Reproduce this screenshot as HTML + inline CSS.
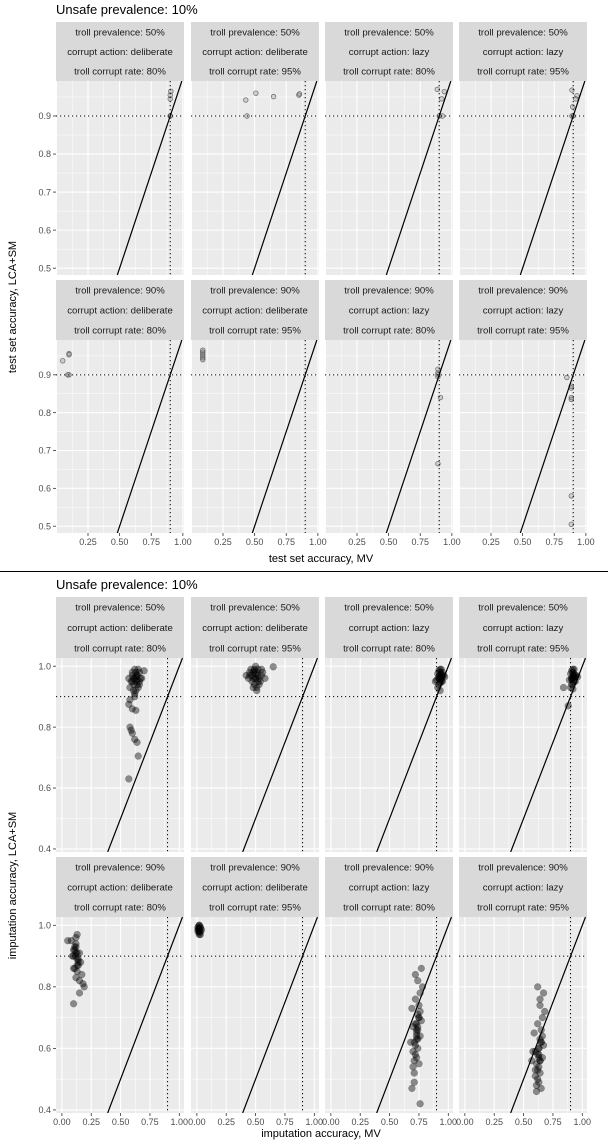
<!DOCTYPE html>
<html><head><meta charset="utf-8">
<style>
html,body{margin:0;padding:0;background:#fff;width:608px;height:1142px;overflow:hidden;}
svg{display:block;font-family:"Liberation Sans",sans-serif;}
</style></head>
<body>
<svg id="chart" width="608" height="1142" viewBox="0 0 608 1142" xmlns="http://www.w3.org/2000/svg"></svg>
<script>
// ---- facet labels ----
const trollPrev = ["50%","50%","50%","50%","90%","90%","90%","90%"];
const corruptAction = ["deliberate","deliberate","lazy","lazy","deliberate","deliberate","lazy","lazy"];
const corruptRate = ["80%","95%","80%","95%","80%","95%","80%","95%"];

// ---- top plot: test set accuracy (MV x, LCA+SM y) ----
const topTickX = [0.25,0.5,0.75,1.0];
const topTickXLabels = ["0.25","0.50","0.75","1.00"];
const topTickY = [0.5,0.6,0.7,0.8,0.9];
const topTickYLabels = ["0.5","0.6","0.7","0.8","0.9"];
const topX = [
 [0.90,0.90,0.90,0.90,0.905],
 [0.43,0.44,0.51,0.65,0.85,0.855],
 [0.885,0.94,0.92,0.925,0.90],
 [0.89,0.93,0.92,0.895,0.89,0.90],
 [0.05,0.10,0.10,0.09,0.10],
 [0.09,0.09,0.09,0.09,0.09,0.09],
 [0.89,0.89,0.89,0.89,0.91,0.89],
 [0.85,0.885,0.885,0.885,0.885,0.885,0.885]
];
const topY = [
 [0.90,0.90,0.945,0.955,0.965],
 [0.942,0.90,0.96,0.951,0.955,0.958],
 [0.97,0.964,0.945,0.90,0.90],
 [0.968,0.953,0.945,0.924,0.90,0.90],
 [0.937,0.956,0.953,0.90,0.90],
 [0.94,0.945,0.95,0.955,0.96,0.965],
 [0.915,0.905,0.90,0.895,0.84,0.665],
 [0.893,0.87,0.865,0.84,0.835,0.58,0.505]
];

// ---- bottom plot: imputation accuracy ----
const botTickX = [0,0.25,0.5,0.75,1.0];
const botTickXLabels = ["0.00","0.25","0.50","0.75","1.00"];
const botTickY = [0.4,0.6,0.8,1.0];
const botTickYLabels = ["0.4","0.6","0.8","1.0"];
const botX = [
 [0.60,0.62,0.64,0.66,0.63,0.61,0.65,0.67,0.59,0.62,0.64,0.60,0.66,0.63,0.68,0.61,0.63,0.65,0.58,0.62,0.64,0.66,0.60,0.63,0.70,0.57,0.61,0.64,0.62,0.58,0.57,0.60,0.63,0.58,0.59,0.60,0.62,0.64,0.65,0.57],
 [0.45,0.48,0.50,0.52,0.55,0.47,0.49,0.51,0.53,0.46,0.50,0.54,0.48,0.52,0.44,0.56,0.49,0.51,0.47,0.53,0.50,0.45,0.55,0.48,0.52,0.50,0.42,0.58,0.49,0.51,0.65],
 [0.92,0.93,0.94,0.91,0.95,0.93,0.92,0.94,0.96,0.90,0.93,0.95,0.92,0.94,0.91,0.93,0.97,0.92,0.94,0.93,0.89,0.95,0.93,0.92,0.94],
 [0.91,0.92,0.93,0.90,0.94,0.92,0.91,0.93,0.95,0.89,0.92,0.94,0.91,0.93,0.90,0.92,0.96,0.91,0.93,0.92,0.84,0.88,0.92,0.93,0.91],
 [0.10,0.12,0.13,0.11,0.14,0.12,0.09,0.13,0.15,0.11,0.12,0.14,0.10,0.13,0.12,0.16,0.08,0.12,0.14,0.11,0.13,0.17,0.15,0.18,0.19,0.12,0.10,0.05,0.13,0.15,0.10],
 [0.01,0.02,0.03,0.02,0.01,0.03,0.02,0.04,0.01,0.02,0.03,0.02,0.02,0.01,0.03,0.02],
 [0.72,0.74,0.73,0.75,0.71,0.76,0.73,0.74,0.70,0.72,0.75,0.73,0.77,0.71,0.74,0.72,0.76,0.73,0.69,0.75,0.74,0.72,0.78,0.70,0.73,0.71,0.76,0.74,0.68,0.72,0.75,0.73,0.70,0.77,0.71,0.74,0.69,0.76],
 [0.62,0.64,0.63,0.65,0.61,0.66,0.63,0.64,0.60,0.62,0.65,0.63,0.67,0.61,0.64,0.62,0.66,0.63,0.59,0.65,0.64,0.62,0.68,0.60,0.63,0.61,0.66,0.64,0.57,0.62,0.65,0.63,0.60,0.67,0.58,0.64]
];
const botY = [
 [0.95,0.96,0.97,0.95,0.98,0.94,0.93,0.96,0.95,0.99,0.94,0.97,0.98,0.92,0.96,0.96,0.95,0.99,0.93,0.91,0.97,0.94,0.98,0.965,0.985,0.96,0.92,0.955,0.90,0.89,0.875,0.86,0.855,0.80,0.79,0.78,0.76,0.75,0.705,0.63],
 [0.97,0.98,0.96,0.99,0.97,0.95,0.94,0.98,0.96,0.99,1.0,0.95,0.93,0.97,0.96,0.98,0.99,0.92,0.97,0.94,0.96,0.98,0.99,0.96,0.95,0.975,0.97,0.96,0.985,0.93,0.998],
 [0.96,0.97,0.95,0.975,0.965,0.98,0.94,0.99,0.97,0.955,0.96,0.95,0.985,0.97,0.93,0.92,0.965,0.96,0.975,0.945,0.95,0.98,0.99,0.965,0.955],
 [0.96,0.97,0.95,0.975,0.965,0.98,0.94,0.99,0.97,0.955,0.96,0.95,0.985,0.97,0.93,0.925,0.965,0.96,0.975,0.945,0.93,0.87,0.99,0.965,0.955],
 [0.90,0.91,0.89,0.92,0.88,0.93,0.90,0.87,0.91,0.86,0.94,0.89,0.92,0.85,0.90,0.88,0.95,0.96,0.87,0.93,0.91,0.84,0.82,0.81,0.80,0.83,0.86,0.95,0.97,0.78,0.745],
 [0.99,0.985,0.995,1.0,0.98,0.99,0.975,0.985,0.995,0.97,0.98,0.99,1.0,0.985,0.97,0.98],
 [0.68,0.66,0.63,0.70,0.62,0.72,0.65,0.60,0.67,0.58,0.74,0.64,0.69,0.56,0.71,0.61,0.78,0.66,0.73,0.55,0.63,0.76,0.80,0.59,0.68,0.52,0.64,0.82,0.62,0.84,0.70,0.57,0.54,0.86,0.49,0.67,0.47,0.42],
 [0.58,0.56,0.60,0.62,0.55,0.64,0.57,0.52,0.59,0.50,0.66,0.54,0.61,0.48,0.63,0.53,0.70,0.58,0.65,0.47,0.56,0.68,0.72,0.51,0.60,0.46,0.57,0.76,0.56,0.80,0.62,0.49,0.53,0.78,0.59,0.74]
];
const refLine = 0.9;

const NS = "http://www.w3.org/2000/svg";
const svg = document.getElementById("chart");
function mk(tag, attrs, parent){
  const e = document.createElementNS(NS, tag);
  for (const k in attrs) e.setAttribute(k, attrs[k]);
  (parent||svg).appendChild(e);
  return e;
}
const colX = [56,191,325,459];
const panelW = 128;

function drawPlot(cfg){
  const g = mk("g", {});
  
  
  const t = mk("text", {x:56, y:cfg.titleY, "font-size":13, fill:"#000"}, g);
  t.textContent = "Unsafe prevalence: 10%";
  
  
  for (let i=0;i<8;i++){
    const r = Math.floor(i/4), c = i%4;
    const px = colX[c], py = cfg.panelTop[r], ph = cfg.panelH[r];
    const sx = v => px + (v - cfg.xd[0])/(cfg.xd[1]-cfg.xd[0])*panelW;
    const sy = v => py + ph - (v - cfg.yd[0])/(cfg.yd[1]-cfg.yd[0])*ph;
    const pg = mk("g", {}, g);
    
    
    const st = cfg.stripTop[r];
    const sr = mk("rect", {x:px, y:st, width:panelW, height:py-st, fill:"#d9d9d9"}, pg);
    
    
    const lines = ["troll prevalence: "+trollPrev[i], "corrupt action: "+corruptAction[i], "troll corrupt rate: "+corruptRate[i]];
    const sh = (py-st)/3;
    lines.forEach((L,k)=>{
      const tx = mk("text", {x:px+panelW/2, y:st+sh*k+sh/2+3.5, "font-size":9.6, fill:"#1a1a1a", "text-anchor":"middle"}, pg);
      tx.textContent = L;
      
      
    });
    const bg = mk("rect", {x:px, y:py, width:panelW, height:ph, fill:"#ebebeb"}, pg);
    
    
    const clipId = cfg.name+"clip"+i;
    const cp = mk("clipPath", {id:clipId}, pg);
    mk("rect", {x:px, y:py, width:panelW, height:ph}, cp);
    const inner = mk("g", {"clip-path":"url(#"+clipId+")"}, pg);
    const xt = cfg.tickX, yt = cfg.tickY;
    const stepX = xt[1]-xt[0], stepY = yt[1]-yt[0];
    for (let v = xt[0]-stepX*2; v <= xt[xt.length-1]+stepX*2; v += stepX/2){
      const major = Math.abs(((v - xt[0])/stepX) - Math.round((v - xt[0])/stepX)) < 1e-6;
      mk("line", {x1:sx(v), x2:sx(v), y1:py, y2:py+ph, stroke:"#fff", "stroke-width": major?1.1:0.5}, inner);
    }
    for (let v = yt[0]-stepY*2; v <= yt[yt.length-1]+stepY*2; v += stepY/2){
      const major = Math.abs(((v - yt[0])/stepY) - Math.round((v - yt[0])/stepY)) < 1e-6;
      mk("line", {x1:px, x2:px+panelW, y1:sy(v), y2:sy(v), stroke:"#fff", "stroke-width": major?1.1:0.5}, inner);
    }
    const X = cfg.dx[i], Y = cfg.dy[i];
    for (let k=0;k<X.length;k++){
      const p = mk("circle", cfg.dense ?
        {cx:sx(X[k]), cy:sy(Y[k]), r:3.4, fill:"#000", "fill-opacity":0.42, stroke:"#000", "stroke-opacity":0.3, "stroke-width":0.5} :
        {cx:sx(X[k]), cy:sy(Y[k]), r:2.3, fill:"#777", "fill-opacity":0.25, stroke:"#444", "stroke-opacity":0.7, "stroke-width":0.8}, inner);
      
      
    }
    const hl = mk("line", {x1:px, x2:px+panelW, y1:sy(refLine), y2:sy(refLine), stroke:"#000", "stroke-width":1, "stroke-dasharray":"1.2,2.8"}, inner);
    
    
    const vl = mk("line", {x1:sx(refLine), x2:sx(refLine), y1:py, y2:py+ph, stroke:"#000", "stroke-width":1, "stroke-dasharray":"1.2,2.8"}, inner);
    
    
    const dl = mk("line", {x1:sx(cfg.yd[0]), y1:sy(cfg.yd[0]), x2:sx(cfg.yd[1]), y2:sy(cfg.yd[1]), stroke:"#000", "stroke-width":1.2}, inner);
    
    
    if (c===0){
      yt.forEach((v,k)=>{
        mk("line", {x1:px-3, x2:px, y1:sy(v), y2:sy(v), stroke:"#333", "stroke-width":0.8}, pg);
        const yl = mk("text", {x:px-5, y:sy(v)+3.2, "font-size":9, fill:"#4d4d4d", "text-anchor":"end"}, pg);
        yl.textContent = cfg.tickYL[k];
        
        
      });
    }
    if (r===1){
      xt.forEach((v,k)=>{
        mk("line", {x1:sx(v), x2:sx(v), y1:py+ph, y2:py+ph+3, stroke:"#333", "stroke-width":0.8}, pg);
        const xl = mk("text", {x:sx(v), y:py+ph+12, "font-size":9, fill:"#4d4d4d", "text-anchor":"middle"}, pg);
        xl.textContent = cfg.tickXL[k];
        
        
      });
    }
  }
  const xa = mk("text", {x:321, y:cfg.xTitleY, "font-size":11, fill:"#000", "text-anchor":"middle"}, g);
  xa.textContent = cfg.xTitle;
  
  
  const yc = (cfg.panelTop[0] + cfg.panelTop[1] + cfg.panelH[1]) / 2;
  const ya = mk("text", {x:0, y:0, "font-size":11, fill:"#000", "text-anchor":"middle", transform:"translate(16,"+yc+") rotate(-90)"}, g);
  ya.textContent = cfg.yTitle;
  
  
}

drawPlot({name:"test-accuracy-plot", titleY:14, stripTop:[22,280], panelTop:[81,340], panelH:[194,193],
  xd:[-0.003,1.009], yd:[0.482,0.992], tickX:topTickX, tickXL:topTickXLabels, tickY:topTickY, tickYL:topTickYLabels,
  dx:topX, dy:topY, dense:false, xTitle:"test set accuracy, MV", yTitle:"test set accuracy, LCA+SM", xTitleY:562});

const sep = mk("line", {x1:0, x2:608, y1:571.5, y2:571.5, stroke:"#000", "stroke-width":1});



drawPlot({name:"imputation-accuracy-plot", titleY:589, stripTop:[597,857], panelTop:[658,917], panelH:[194,196],
  xd:[-0.05,1.04], yd:[0.39,1.027], tickX:botTickX, tickXL:botTickXLabels, tickY:botTickY, tickYL:botTickYLabels,
  dx:botX, dy:botY, dense:true, xTitle:"imputation accuracy, MV", yTitle:"imputation accuracy, LCA+SM", xTitleY:1137});
</script>
</body></html>
